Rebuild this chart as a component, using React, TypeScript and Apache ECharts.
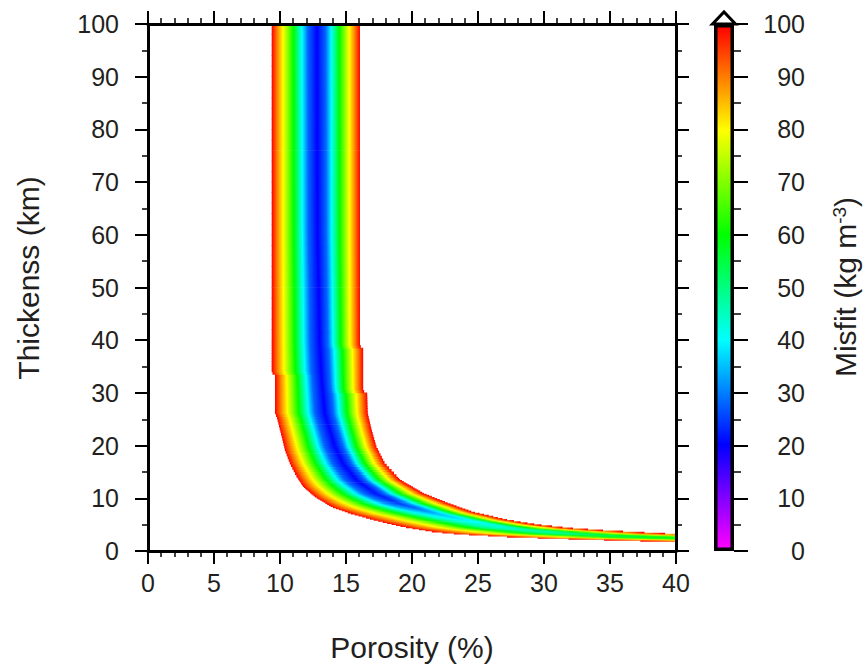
import React, { useEffect, useRef } from 'react';
import * as echarts from 'echarts';

// ---- Data ----
// Outer (misfit = 100) boundary on the low-porosity / low-thickness side: [porosity %, thickness km]
const leftEdgePorosity = [9.37, 9.37, 9.62, 9.62, 9.75, 10.13, 10.38, 10.76, 11.27, 11.77, 12.65, 13.9, 15.3, 17.1, 19.3, 21.6, 23.6, 27.2, 32.2, 37.3, 39.8, 50, 60];
const leftEdgeThickness = [100, 33.8, 33.6, 26.1, 25.5, 21.7, 19.1, 16.6, 14.1, 12.2, 10.3, 8.4, 7.15, 5.9, 4.6, 3.66, 3.2, 2.7, 2.27, 1.9, 1.77, 1.45, 1.2];
// Valley of minimum misfit
const centerPorosity = [12.8, 12.85, 13.0, 13.16, 13.4, 14.17, 14.8, 15.8, 17.3, 19.1, 21.6, 23.6, 27.2, 32.2, 37.3, 39.8, 50, 60];
const centerThickness = [100, 60, 40, 32.4, 26.1, 19.8, 16.6, 13.5, 10.9, 9.0, 7.3, 6.2, 4.4, 3.25, 2.65, 2.46, 2.0, 1.7];
// Outer (misfit = 100) boundary on the high-porosity / high-thickness side
const rightEdgePorosity = [16.06, 16.06, 16.3, 16.3, 16.6, 16.65, 16.95, 17.3, 17.95, 19.1, 20.9, 22.7, 24.6, 27.2, 29.7, 32.2, 34.75, 37.3, 39.8, 50, 60];
const rightEdgeThickness = [100, 38.8, 38.6, 30.3, 30.1, 26.1, 22.9, 19.8, 16.6, 13.5, 10.9, 9.1, 7.4, 5.9, 4.93, 4.3, 3.85, 3.54, 3.22, 2.6, 2.3];
// Misfit found along the valley, by porosity
const centerMinPorosity = [12.8, 16, 18, 20, 22, 25, 30, 35, 40];
const centerMinMisfit = [20, 20, 22, 27, 34, 40, 46, 53, 58];
// Misfit across the band (fraction of half width from valley to edge)
const profileFraction = [0, 0.2, 0.33, 0.52, 0.75, 0.88, 1];
const profileMisfit = [20, 28, 40, 60, 80, 90, 100];
// Colour scale (kg m-3)
const colorStopValues = [0, 20, 40, 60, 80, 100];
const colorStopColors = ['#ff00ff', '#0000ff', '#00ffff', '#00ff00', '#ffff00', '#ff0000'];
const colorbarValue = [100];

const FONT = '"Liberation Sans", Arial, Helvetica, sans-serif';
const TEXT = '#231f20';

function interp(xs: number[], ys: number[], x: number): number {
  if (x <= xs[0]) return ys[0];
  const n = xs.length;
  if (x >= xs[n - 1]) return ys[n - 1];
  for (let i = 0; i < n - 1; i++) {
    if (x >= xs[i] && x <= xs[i + 1]) {
      const d = xs[i + 1] - xs[i];
      if (d === 0) return ys[i];
      return ys[i] + ((x - xs[i]) / d) * (ys[i + 1] - ys[i]);
    }
  }
  return ys[n - 1];
}

// porosity at which a boundary curve reaches thickness h
function cross(phis: number[], hs: number[], h: number): number {
  if (h >= hs[0]) return phis[0];
  for (let i = 0; i < hs.length - 1; i++) {
    if (h <= hs[i] && h >= hs[i + 1]) {
      const d = hs[i] - hs[i + 1];
      if (d === 0) return phis[i];
      const t = (hs[i] - h) / d;
      return phis[i] + t * (phis[i + 1] - phis[i]);
    }
  }
  return Infinity;
}

const profileNorm = profileMisfit.map((v) => (v - profileMisfit[0]) / (100 - profileMisfit[0]));

function misfitAt(phi: number, L: number, C: number, R: number, m: number): number {
  let f: number;
  if (phi <= C) f = C - L > 0 ? (C - phi) / (C - L) : 1;
  else f = isFinite(R) && R - C > 0 ? (phi - C) / (R - C) : 0;
  f = Math.max(0, Math.min(1, f));
  return m + (100 - m) * interp(profileFraction, profileNorm, f);
}

const rgbStops = colorStopColors.map((c) => [
  parseInt(c.slice(1, 3), 16),
  parseInt(c.slice(3, 5), 16),
  parseInt(c.slice(5, 7), 16),
]);

function colorFor(v: number): string {
  const x = Math.max(0, Math.min(100, v));
  let i = 0;
  while (i < colorStopValues.length - 2 && x > colorStopValues[i + 1]) i++;
  const t = (x - colorStopValues[i]) / (colorStopValues[i + 1] - colorStopValues[i]);
  const a = rgbStops[i];
  const b = rgbStops[i + 1];
  const r = Math.round(a[0] + t * (b[0] - a[0]));
  const g = Math.round(a[1] + t * (b[1] - a[1]));
  const bl = Math.round(a[2] + t * (b[2] - a[2]));
  return `rgb(${r},${g},${bl})`;
}

// rendering slices (thickness bands) of the raster
function buildRows(): number[][] {
  const edges: number[] = [];
  for (let k = 0; k <= 62; k++) edges.push(1.6 + k * 0.2);
  for (let k = 1; k <= 52; k++) edges.push(14 + k * 0.5);
  for (let k = 1; k <= 30; k++) edges.push(40 + k * 2);
  const rows: number[][] = [];
  for (let i = 0; i < edges.length - 1; i++) rows.push([edges[i], edges[i + 1]]);
  return rows;
}

const renderRow = (params: any, api: any) => {
  const h0 = api.value(0);
  const h1 = api.value(1);
  const hm = (h0 + h1) / 2;
  const L = cross(leftEdgePorosity, leftEdgeThickness, hm);
  if (!isFinite(L) || L >= 40) return null;
  const C = cross(centerPorosity, centerThickness, hm);
  const R = cross(rightEdgePorosity, rightEdgeThickness, hm);
  const xs = Math.max(0, L);
  const xe = Math.min(40, R);
  if (!(xe > xs)) return null;
  const m = interp(centerMinPorosity, centerMinMisfit, C);
  const pos: number[] = [];
  const N = 60;
  for (let k = 0; k <= N; k++) pos.push(xs + ((xe - xs) * k) / N);
  for (const fr of profileFraction) {
    pos.push(C - fr * (C - L));
    if (isFinite(R)) pos.push(C + fr * (R - C));
  }
  const ps = pos.filter((p) => p >= xs && p <= xe).sort((a, b) => a - b);
  const stops: any[] = [];
  let last = -1;
  for (const p of ps) {
    const off = (p - xs) / (xe - xs);
    if (off - last < 1e-4) continue;
    last = off;
    stops.push({ offset: off, color: colorFor(misfitAt(p, L, C, R, m)) });
  }
  const p0 = api.coord([xs, h1]);
  const p1 = api.coord([xe, h0]);
  return {
    type: 'rect',
    shape: { x: p0[0], y: p0[1] - 0.35, width: p1[0] - p0[0], height: p1[1] - p0[1] + 0.7 },
    style: { fill: new echarts.graphic.LinearGradient(0, 0, 1, 0, stops) },
  };
};

const frameLine = { show: true, onZero: false, lineStyle: { color: '#000', width: 3 } };
const majorTick = { show: true, inside: false, length: 13, lineStyle: { color: '#000', width: 2 } };
const labelStyle = { color: TEXT, fontSize: 25, fontFamily: FONT };

export default function App() {
  const ref = useRef<HTMLDivElement>(null);
  useEffect(() => {
    if (!ref.current) return;
    const chart = echarts.init(ref.current, undefined, { renderer: 'svg' });
    const rows = buildRows();
    const barGradient = new echarts.graphic.LinearGradient(
      0, 1, 0, 0,
      colorStopValues.map((v, i) => ({ offset: v / 100, color: colorStopColors[i] }))
    );
    chart.setOption({
      animation: false,
      backgroundColor: '#ffffff',
      grid: [
        { left: 148, top: 24, width: 528, height: 527 },
        { left: 714, top: 24, width: 20, height: 527 },
      ],
      xAxis: [
        {
          gridIndex: 0, type: 'value', position: 'bottom', min: 0, max: 40, interval: 5, z: 10,
          axisLine: frameLine, axisTick: majorTick,
          minorTick: { show: true, splitNumber: 5, length: 6, lineStyle: { color: '#000', width: 1.5 } },
          axisLabel: { ...labelStyle, margin: 19 },
          splitLine: { show: false }, minorSplitLine: { show: false },
        },
        {
          gridIndex: 0, type: 'value', position: 'top', min: 0, max: 40, interval: 5, z: 10,
          axisLine: frameLine, axisTick: majorTick,
          minorTick: { show: true, splitNumber: 5, length: 6, lineStyle: { color: '#000', width: 1.5 } },
          axisLabel: { show: false },
          splitLine: { show: false }, minorSplitLine: { show: false },
        },
        { gridIndex: 1, type: 'category', data: ['misfit'], show: false },
      ],
      yAxis: [
        {
          gridIndex: 0, type: 'value', position: 'left', min: 0, max: 100, interval: 10, z: 10,
          axisLine: frameLine, axisTick: majorTick,
          minorTick: { show: true, splitNumber: 2, length: 6, lineStyle: { color: '#000', width: 1.5 } },
          axisLabel: { ...labelStyle, margin: 29 },
          splitLine: { show: false }, minorSplitLine: { show: false },
        },
        {
          gridIndex: 0, type: 'value', position: 'right', min: 0, max: 100, interval: 10, z: 10,
          axisLine: frameLine, axisTick: majorTick,
          minorTick: { show: true, splitNumber: 2, length: 6, lineStyle: { color: '#000', width: 1.5 } },
          axisLabel: { show: false },
          splitLine: { show: false }, minorSplitLine: { show: false },
        },
        {
          gridIndex: 1, type: 'value', position: 'right', min: 0, max: 100, interval: 10, z: 10,
          axisLine: { show: false },
          axisTick: { show: true, inside: false, length: 14, lineStyle: { color: '#000', width: 2 } },
          minorTick: { show: true, splitNumber: 2, length: 7, lineStyle: { color: '#000', width: 1.5 } },
          axisLabel: { ...labelStyle, align: 'right', margin: 71 },
          splitLine: { show: false }, minorSplitLine: { show: false },
        },
      ],
      series: [
        {
          type: 'custom', xAxisIndex: 0, yAxisIndex: 0, data: rows, renderItem: renderRow,
          silent: true, clip: true, z: 1,
        },
        {
          type: 'bar', xAxisIndex: 2, yAxisIndex: 2, data: colorbarValue, barWidth: '100%', silent: true, z: 1,
          itemStyle: { color: barGradient, borderColor: '#000', borderWidth: 3.5 },
        },
      ],
      graphic: [
        {
          type: 'polygon', z: 20,
          shape: { points: [[712.5, 24], [735.5, 24], [724, 12]] },
          style: { fill: '#ffffff', stroke: '#000', lineWidth: 3 },
        },
        {
          type: 'text', x: 412, y: 647, z: 20,
          style: { text: 'Porosity (%)', fontSize: 30, fontFamily: FONT, fill: TEXT, textAlign: 'center', textVerticalAlign: 'middle', align: 'center', verticalAlign: 'middle' },
        },
        {
          type: 'text', x: 28, y: 278, rotation: Math.PI / 2, z: 20,
          style: { text: 'Thickenss (km)', fontSize: 30, fontFamily: FONT, fill: TEXT, textAlign: 'center', textVerticalAlign: 'middle', align: 'center', verticalAlign: 'middle' },
        },
        {
          type: 'text', x: 845, y: 287, rotation: Math.PI / 2, z: 20,
          style: {
            text: 'Misfit (kg m{sup|-3})', fontSize: 30, fontFamily: FONT, fill: TEXT,
            textAlign: 'center', textVerticalAlign: 'middle', align: 'center', verticalAlign: 'middle',
            rich: { sup: { fontSize: 19, fontFamily: FONT, fill: TEXT, color: TEXT, verticalAlign: 'top', lineHeight: 30 } },
          },
        },
      ],
    });
    return () => chart.dispose();
  }, []);
  return <div ref={ref} style={{ position: 'fixed', left: 0, top: 0, width: 865, height: 671 }} />;
}
